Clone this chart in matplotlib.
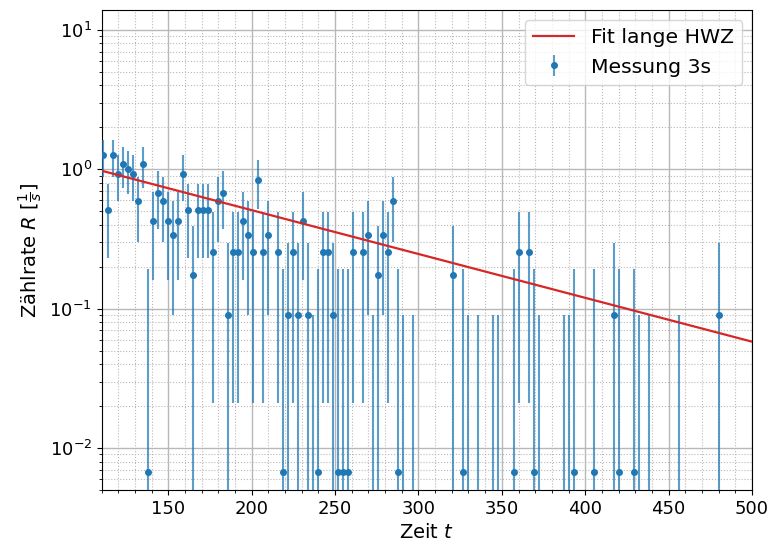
import matplotlib
matplotlib.use("Agg")
import matplotlib.pyplot as plt
from matplotlib.ticker import MultipleLocator
import numpy as np

# measurement times (s)
t_meas = [111, 114, 117, 120, 123, 126, 129, 132, 135, 138, 141, 144, 147, 150,
          153, 156, 159, 162, 165, 168, 171, 174, 177, 180, 183, 186, 189, 192,
          195, 198, 201, 204, 207, 210, 216, 219, 222, 225, 228, 231, 234, 237,
          240, 243, 246, 249, 252, 255, 258, 261, 267, 270, 273, 276, 279, 282,
          285, 288, 291, 297, 321, 327, 330, 336, 345, 348, 357, 360, 366, 369,
          372, 387, 390, 393, 405, 417, 420, 429, 432, 438, 456, 480]

# count rate R (1/s)
rate = [1.2567, 0.5067, 1.2567, 0.9233, 1.0900, 1.0067, 0.9233, 0.5900, 1.0900, 0.0067,
        0.4233, 0.6733, 0.5900, 0.4233, 0.3400, 0.4233, 0.9233, 0.5067, 0.1733, 0.5067,
        0.5067, 0.5067, 0.2567, 0.5900, 0.6733, 0.0900, 0.2567, 0.2567, 0.4233, 0.3400,
        0.2567, 0.8400, 0.2567, 0.3400, 0.2567, 0.0067, 0.0900, 0.2567, 0.0900, 0.4233,
        0.0900, -0.0767, 0.0067, 0.2567, 0.2567, 0.0900, 0.0067, 0.0067, 0.0067, 0.2567,
        0.2567, 0.3400, -0.0767, 0.1733, 0.3400, 0.2567, 0.5900, 0.0067, -0.0767, -0.0767,
        0.1733, 0.0067, -0.0767, -0.0767, -0.0767, -0.0767, 0.0067, 0.2567, 0.2567, 0.0067,
        -0.0767, -0.0767, -0.0767, 0.0067, 0.0067, 0.0900, 0.0067, 0.0067, -0.0767, -0.0767,
        -0.0767, 0.0900]

# uncertainty of R (1/s)
rate_err = [0.3727, 0.2764, 0.3727, 0.3333, 0.3536, 0.3436, 0.3333, 0.2887, 0.3536, 0.1863,
            0.2635, 0.3005, 0.2887, 0.2635, 0.2500, 0.2635, 0.3333, 0.2764, 0.2205, 0.2764,
            0.2764, 0.2764, 0.2357, 0.2887, 0.3005, 0.2041, 0.2357, 0.2357, 0.2635, 0.2500,
            0.2357, 0.3227, 0.2357, 0.2500, 0.2357, 0.1863, 0.2041, 0.2357, 0.2041, 0.2635,
            0.2041, 0.1667, 0.1863, 0.2357, 0.2357, 0.2041, 0.1863, 0.1863, 0.1863, 0.2357,
            0.2357, 0.2500, 0.1667, 0.2205, 0.2500, 0.2357, 0.2887, 0.1863, 0.1667, 0.1667,
            0.2205, 0.1863, 0.1667, 0.1667, 0.1667, 0.1667, 0.1863, 0.2357, 0.2357, 0.1863,
            0.1667, 0.1667, 0.1667, 0.1863, 0.1863, 0.2041, 0.1863, 0.1863, 0.1667, 0.1667,
            0.1667, 0.2041]

# fit parameters (long half-life component): R = A * exp(-lam * t)
fit_A = 2.166
fit_lam = 0.007241

fig = plt.figure(figsize=(7.72, 5.49), dpi=100)
ax = fig.add_axes([0.1317, 0.1075, 0.974 - 0.1317, 0.9818 - 0.1075])

t_fit = np.linspace(100, 510, 400)
ax.plot(t_fit, fit_A * np.exp(-fit_lam * t_fit), color='#d62728', lw=1.6,
        label='Fit lange HWZ', zorder=5)

ax.errorbar(t_meas, rate, yerr=rate_err, fmt='o', markersize=4,
            color='#1f77b4', ecolor=(0.122, 0.467, 0.706, 0.72), elinewidth=1.5,
            label='Messung 3s', zorder=3)

ax.set_yscale('log')
ax.set_xlim(110, 500)
ax.set_ylim(0.005, 13.9)
ax.xaxis.set_major_locator(MultipleLocator(50))
ax.xaxis.set_minor_locator(MultipleLocator(10))

ax.grid(True, which='major', color='#b8b8b8', lw=1.0)
ax.grid(True, which='minor', color='#b8b8b8', ls=':', lw=0.8)
ax.set_axisbelow(True)

ax.tick_params(axis='both', which='major', labelsize=13)
ax.set_xlabel('Zeit $t$', fontsize=14)
ax.set_ylabel(r'Zählrate $R$ [$\frac{1}{s}$]', fontsize=14)

ax.legend(loc='upper right', fontsize=14.7)

fig.savefig('out.png', dpi=100)
